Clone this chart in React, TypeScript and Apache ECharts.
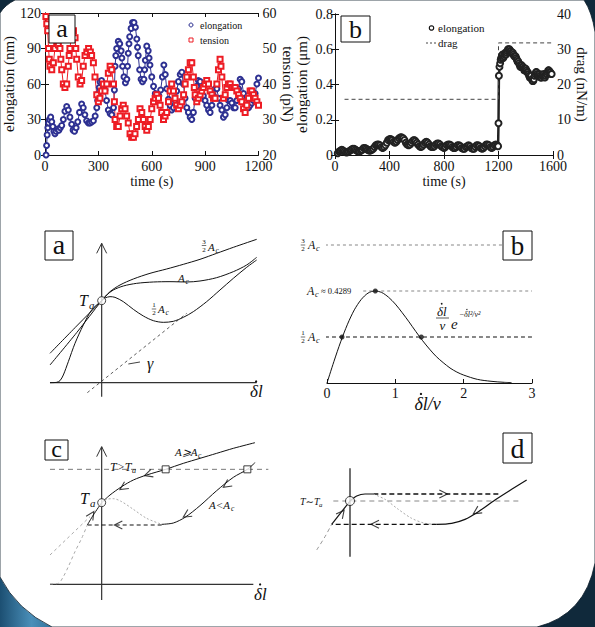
import React, { useEffect, useRef } from 'react';
import * as echarts from 'echarts';

const SERIF = "'Liberation Serif', 'DejaVu Serif', serif";
const INK = '#111';
const BLUE = '#2e3192';
const RED = '#ed1c24';

// ---------- top (a): elongation (nm) and tension (pN) vs time (s)
const elongationA: number[][] = [[6,0],[9,8],[12,17],[16,23],[20,27],[25,30],[32,32],[38,28],[44,24],[50,20],[56,18],[62,20],[70,22],[78,21],[86,23],[94,25],[103,30],[112,37],[122,41],[131,38],[140,32],[150,26],[158,21],[166,20],[175,23],[184,28],[194,36],[206,43],[215,40],[224,34],[234,29],[244,27],[253,27],[262,28],[272,29],[282,33],[291,40],[296,46],[300,52],[305,57],[309,62],[318,63],[328,58],[337,55],[346,46],[356,38],[366,35],[375,34],[385,40],[390,55],[394,75],[398,84],[403,90],[412,96],[420,94],[428,88],[432,82],[436,75],[444,66],[452,61],[460,64],[464,75],[468,86],[472,94],[476,100],[484,107],[492,112],[500,112],[508,108],[516,98],[520,91],[524,84],[532,72],[540,64],[548,62],[556,64],[560,72],[564,80],[572,92],[580,88],[585,82],[590,76],[600,66],[610,58],[620,52],[630,50],[640,50],[650,55],[660,66],[668,76],[676,68],[684,56],[694,47],[703,42],[712,38],[722,40],[731,46],[740,54],[750,62],[760,68],[769,70],[778,60],[787,48],[797,40],[806,36],[816,32],[825,30],[834,36],[844,48],[853,58],[862,63],[872,62],[881,56],[890,50],[900,46],[909,42],[919,38],[928,36],[938,42],[947,50],[956,56],[966,56],[975,48],[984,42],[994,38],[1003,32],[1013,34],[1022,40],[1031,46],[1041,46],[1050,44],[1060,40],[1069,40],[1078,46],[1088,56],[1097,64],[1106,62],[1116,52],[1125,46],[1134,42],[1144,40],[1153,42],[1162,44],[1172,46],[1181,52],[1191,60],[1200,65]];
const tensionA: number[][] = [[5,59],[10,57],[15,55],[20,50],[24,47],[28,45],[38,44],[47,46],[56,50],[66,52],[75,51],[84,50],[89,47],[94,44],[103,40],[112,39],[122,40],[131,45],[136,48],[140,50],[150,54],[160,55],[169,53],[173,50],[178,47],[187,42],[197,40],[206,41],[215,45],[225,48],[235,49],[245,50],[255,49],[262,48],[272,46],[281,42],[291,37],[300,35],[309,36],[318,38],[328,40],[337,38],[347,40],[356,43],[366,45],[375,44],[385,40],[390,35],[394,30],[403,28],[412,28],[422,31],[431,33],[440,34],[450,33],[459,31],[468,29],[478,26],[487,25],[497,25],[506,26],[515,28],[525,30],[534,33],[544,32],[553,30],[563,28],[572,27],[581,28],[591,30],[600,33],[610,35],[619,36],[628,37],[638,36],[647,34],[656,32],[666,30],[675,31],[684,32],[694,35],[703,38],[712,40],[722,38],[731,36],[740,34],[750,33],[760,34],[769,35],[779,37],[788,40],[797,42],[806,44],[816,46],[825,46],[834,42],[839,39],[844,37],[853,35],[862,36],[872,37],[881,38],[890,39],[900,40],[909,41],[919,40],[928,38],[938,37],[947,36],[956,36],[966,40],[975,44],[984,47],[989,45],[994,42],[1003,36],[1013,37],[1022,39],[1031,40],[1041,40],[1050,39],[1060,39],[1069,39],[1078,38],[1088,37],[1097,36],[1106,35],[1116,33],[1125,32],[1134,34],[1144,36],[1153,38],[1162,38],[1172,37],[1181,36],[1191,35],[1200,34]];

// ---------- top (b): elongation (um) and drag (nN/m) vs time (s)
const elongationB: number[][] = [[20,0.01],[30,0.02],[40,0.025],[50,0.03],[60,0.025],[70,0.02],[80,0.015],[90,0.015],[100,0.02],[110,0.025],[120,0.03],[130,0.035],[140,0.035],[150,0.03],[160,0.025],[170,0.02],[180,0.02],[190,0.025],[200,0.03],[210,0.04],[220,0.04],[230,0.035],[240,0.03],[250,0.025],[260,0.025],[270,0.03],[280,0.035],[290,0.045],[300,0.055],[310,0.06],[320,0.06],[330,0.055],[340,0.045],[350,0.04],[360,0.045],[370,0.055],[380,0.07],[390,0.085],[400,0.09],[410,0.09],[420,0.085],[430,0.075],[440,0.07],[450,0.075],[460,0.085],[470,0.095],[480,0.1],[490,0.1],[500,0.095],[510,0.085],[520,0.07],[530,0.06],[540,0.055],[550,0.06],[560,0.07],[570,0.08],[580,0.085],[590,0.08],[600,0.07],[610,0.06],[620,0.05],[630,0.045],[640,0.05],[650,0.06],[660,0.07],[670,0.075],[680,0.07],[690,0.06],[700,0.05],[710,0.045],[720,0.045],[730,0.05],[740,0.06],[750,0.065],[760,0.065],[770,0.06],[780,0.05],[790,0.045],[800,0.04],[810,0.045],[820,0.055],[830,0.06],[840,0.06],[850,0.055],[860,0.045],[870,0.04],[880,0.04],[890,0.045],[900,0.055],[910,0.055],[920,0.05],[930,0.04],[940,0.035],[950,0.035],[960,0.045],[970,0.05],[980,0.055],[990,0.05],[1000,0.04],[1010,0.035],[1020,0.035],[1030,0.045],[1040,0.055],[1050,0.055],[1060,0.05],[1070,0.04],[1080,0.035],[1090,0.04],[1100,0.05],[1110,0.06],[1120,0.06],[1130,0.055],[1140,0.045],[1150,0.04],[1160,0.045],[1170,0.055],[1180,0.06],[1190,0.055],[1197,0.05],[1200,0.18],[1203,0.45],[1207,0.5],[1212,0.52],[1216,0.54],[1220,0.55],[1225,0.56],[1230,0.57],[1235,0.55],[1240,0.56],[1245,0.57],[1250,0.58],[1255,0.57],[1260,0.58],[1265,0.59],[1270,0.6],[1275,0.6],[1280,0.6],[1285,0.59],[1290,0.59],[1295,0.58],[1300,0.58],[1305,0.58],[1310,0.57],[1315,0.56],[1320,0.56],[1325,0.56],[1330,0.55],[1335,0.54],[1340,0.53],[1345,0.53],[1350,0.52],[1355,0.51],[1360,0.5],[1365,0.5],[1370,0.51],[1375,0.5],[1380,0.5],[1385,0.49],[1390,0.48],[1395,0.48],[1400,0.49],[1405,0.48],[1410,0.47],[1415,0.47],[1420,0.46],[1425,0.45],[1430,0.44],[1435,0.44],[1440,0.45],[1445,0.43],[1450,0.42],[1455,0.42],[1460,0.43],[1465,0.45],[1470,0.46],[1475,0.47],[1480,0.47],[1485,0.46],[1490,0.45],[1495,0.45],[1500,0.46],[1505,0.45],[1510,0.44],[1515,0.44],[1520,0.45],[1525,0.45],[1530,0.46],[1535,0.45],[1540,0.44],[1545,0.45],[1550,0.46],[1555,0.46],[1560,0.47],[1565,0.48],[1570,0.48],[1575,0.47],[1580,0.47],[1585,0.46],[1590,0.46]];
const dragB: number[][] = [[70,15.8],[1200,15.8],[1200,31.8],[1600,31.8]];

// ---------- middle (a): force-velocity sketch
const aAxisX = [[-1.55,0],[4.65,0]];
const aAxisY = [[0,-0.42],[0,4.18]];
const aArrowHead = [[-0.15,3.88],[0,4.18],[0.15,3.88]];
const aCurve15 = [[-1.55,0.88],[-0.75,1.7],[0,2.46],[0.25,2.73],[0.55,2.93],[0.95,3.11],[1.45,3.28],[1.95,3.41],[2.45,3.55],[2.95,3.7],[3.45,3.88],[3.95,4.06],[4.65,4.3]];
const aCurve10 = [[-1.55,0.53],[-0.75,1.5],[0,2.46],[0.15,2.63],[0.35,2.78],[0.65,2.9],[1.05,2.98],[1.55,3.02],[2.05,3.03],[2.55,3.02],[2.95,3.05],[3.45,3.15],[3.95,3.33],[4.35,3.53],[4.65,3.76]];
const aCurve05 = [[-1.55,0],[-1.35,0.01],[-1.25,0.06],[-1.15,0.23],[-1.0,0.63],[-0.8,1.18],[-0.55,1.73],[-0.3,2.18],[0,2.46],[0.1,2.54],[0.25,2.58],[0.4,2.56],[0.65,2.43],[0.95,2.2],[1.25,2.0],[1.55,1.86],[1.85,1.81],[2.15,1.84],[2.45,1.96],[2.75,2.13],[3.15,2.43],[3.55,2.78],[3.95,3.13],[4.35,3.46],[4.65,3.68]];
const aGamma = [[-0.43,-0.3],[2.55,2.08]];
const aGammaTick = [[0.8,0.56],[1.15,0.62]];
const aTa = [[0,2.46]];

// ---------- middle (b): dl/v * exp(-dl^2/v^2)
const fX = [0,0.1,0.2,0.3,0.4,0.5,0.6,0.7,0.8,0.9,1.0,1.1,1.2,1.3,1.4,1.5,1.6,1.7,1.8,1.9,2.0,2.2,2.4,2.6,2.7];
const fY = [0,0.099,0.192,0.274,0.341,0.389,0.419,0.429,0.422,0.4,0.368,0.328,0.285,0.24,0.197,0.158,0.123,0.095,0.07,0.051,0.037,0.017,0.008,0.003,0.002];
const levelAc = 0.4289;
const bLevel15 = [[-0.03,1.5 * levelAc],[2.58,1.5 * levelAc]];
const bLevel10 = [[0.53,levelAc],[3,levelAc]];
const bLevel05 = [[-0.03,0.5 * levelAc],[3,0.5 * levelAc]];
const bDots = [[0.22,0.2144],[0.707,0.4289],[1.38,0.2144]];

// ---------- bottom (c)
const cAxisX = [[-1.55,0],[4.55,0]];
const cAxisY = [[0,-0.47],[0,4.13]];
const cArrowHead = [[-0.15,3.83],[0,4.13],[0.15,3.83]];
const cLevel = [[-1.55,3.45],[5.0,3.45]];
const cUpper = [[0,2.45],[0.25,2.68],[0.6,2.93],[0.95,3.13],[1.35,3.28],[1.92,3.45],[2.45,3.63],[2.95,3.78],[3.45,3.93],[3.95,4.08],[4.6,4.25]];
const cHump = [[0,2.45],[0.15,2.55],[0.35,2.57],[0.6,2.48],[0.95,2.25],[1.35,1.98],[1.8,1.8]];
const cLower = [[1.8,1.8],[2.15,1.84],[2.5,2.01],[2.95,2.36],[3.45,2.81],[3.95,3.21],[4.37,3.45],[4.6,3.65]];
const cJump = [[1.8,1.78],[-0.43,1.78]];
const cRise = [[-0.43,1.78],[-0.25,2.08],[0,2.45]];
const cLeftLine = [[-1.55,0.88],[-0.35,2.03]];
const cLeftSigmoid = [[-1.55,0.01],[-1.3,0.03],[-1.15,0.23],[-1.0,0.53],[-0.8,0.98],[-0.6,1.38],[-0.43,1.78]];
const cTa = [[0,2.45]];
const cSquares = [[1.92,3.45],[4.37,3.45]];
const cArrowPts = [[1.4,3.3],[0.65,2.91],[3.75,2.98],[2.55,2.08],[0.5,1.78],[-0.3,2.08]];
const cArrowAngles = [198,213,215,213,180,57];

// ---------- bottom (d)
const dAxisY = [[0,0],[0,2.65]];
const dLevel = [[-0.5,1.67],[5.1,1.67]];
const dTop = [[0.7,1.88],[4.45,1.88]];
const dUpStart = [[0,1.67],[0.2,1.82],[0.45,1.88],[0.7,1.88]];
const dHump = [[0.7,1.88],[1.05,1.72],[1.45,1.42],[1.85,1.15],[2.25,1.0],[2.6,0.97]];
const dLower = [[2.6,0.97],[3.05,1.0],[3.45,1.12],[3.85,1.35],[4.35,1.7],[4.85,2.02],[5.3,2.3]];
const dJump = [[2.6,0.97],[-0.55,0.97]];
const dRise = [[-0.55,0.97],[0,1.67]];
const dLeft = [[-1.0,0.2],[-0.75,0.6],[-0.55,0.97]];
const dTa = [[0,1.67]];
const dArrowPts = [[2.8,1.88],[3.8,1.35],[0.75,0.97],[-0.25,1.3]];
const dArrowAngles = [0,213,180,52];

const CARD = 'M0 13 Q5 5 15 0 L584 0 Q592 12 595 32 L595 563 Q585 615 537 627 L52 627 Q17 610 0 577 Z';
echarts.graphic.registerShape('card', echarts.graphic.extendPath(CARD, {}));

const CHEVRON = 'path://M0,0L10,5L0,10';

const txt = (x: number, y: number, text: string, size: number, extra: any = {}) => ({
  type: 'text', x, y, z: 100, silent: true,
  style: { text, fontFamily: SERIF, fontSize: size, fill: INK, align: 'left', verticalAlign: 'middle', ...extra },
});
const ital = { fontStyle: 'italic' };
const dot = (cx: number, cy: number, r: number) => ({ type: 'circle', z: 101, silent: true, shape: { cx, cy, r }, style: { fill: INK } });
// "δ̇l" (delta with a dot above) followed by an optional suffix, left aligned at x
const dl = (x: number, y: number, size: number, suffix = '') => [
  txt(x, y, 'δl' + suffix, size, ital),
  dot(x + 0.36 * size, y - 0.56 * size, Math.max(0.6, size * 0.065)),
];
const frac = (cx: number, cy: number, num: string, den: string, size: number) => [
  txt(cx, cy - size * 0.55, num, size, { align: 'center' }),
  { type: 'line', z: 100, silent: true, shape: { x1: cx - size * 0.32, y1: cy, x2: cx + size * 0.32, y2: cy }, style: { stroke: INK, lineWidth: 0.6 } },
  txt(cx, cy + size * 0.6, den, size, { align: 'center' }),
];
const subbed = (x: number, y: number, main: string, sub: string, size: number, w: number) => [
  txt(x, y, main, size, ital),
  txt(x + w, y + size * 0.32, sub, size * 0.68, ital),
];
const box = (x: number, y: number, w: number, h: number, letter: string, size: number, dy = 0) => [
  { type: 'rect', z: 99, silent: true, shape: { x, y, width: w, height: h }, style: { fill: '#fff', stroke: INK, lineWidth: 1 } },
  txt(x + w / 2, y + h / 2 + dy, letter, size, { align: 'center' }),
];

const ln = (ax: number, data: number[][], color = INK, width = 1, type: any = 'solid', smooth: any = false) => ({
  type: 'line', xAxisIndex: ax, yAxisIndex: ax, data, symbol: 'none', smooth, silent: true, z: 3,
  lineStyle: { color, width, type },
});
const arrows = (ax: number, pts: number[][], angles: number[]) => ({
  type: 'scatter', xAxisIndex: ax, yAxisIndex: ax, silent: true, z: 5,
  symbol: CHEVRON, symbolSize: 8,
  itemStyle: { color: 'transparent', borderColor: INK, borderWidth: 1.1 },
  data: pts.map((p, i) => ({ value: p, symbolRotate: angles[i] })),
});
const markers = (ax: number, pts: number[][], symbol: string, size: number) => ({
  type: 'scatter', xAxisIndex: ax, yAxisIndex: ax, silent: true, z: 6,
  symbol, symbolSize: size,
  itemStyle: { color: '#fff', borderColor: INK, borderWidth: 1 },
  data: pts,
});

const plain = (v: number) => String(Math.round(v * 1000) / 1000);
const axisBase = {
  axisLine: { show: true, lineStyle: { color: INK, width: 1 } },
  axisTick: { show: true, inside: true, length: 4, lineStyle: { color: INK } },
  splitLine: { show: false },
  axisLabel: { color: INK, fontFamily: SERIF, fontSize: 14, margin: 4, formatter: plain },
  nameTextStyle: { color: INK, fontFamily: SERIF, fontSize: 15 },
};
const hidden = (gi: number, min: number, max: number) => ({ type: 'value', gridIndex: gi, min, max, show: false });

export default function App() {
  const ref = useRef<HTMLDivElement>(null);
  useEffect(() => {
    if (!ref.current) return;
    const chart = echarts.init(ref.current, undefined, { renderer: 'svg' });
    const graphic: any[] = [
      { type: 'rect', z: -60, silent: true, shape: { x: 0, y: 540, width: 90, height: 87 },
        style: { fill: new echarts.graphic.LinearGradient(0, 0, 1, 0, [
          { offset: 0, color: '#1c4f72' }, { offset: 0.35, color: '#4a8fb9' }, { offset: 0.6, color: '#2f6f98' }, { offset: 1, color: '#3f86b0' }]) } },
      { type: 'card', x: 0, y: 0, z: -50, silent: true, style: { fill: '#fff', stroke: '#0b1c28', lineWidth: 0.8 } },
      // top (a)
      ...box(49, 15, 26, 28, 'a', 26, -1),
      { type: 'circle', z: 100, silent: true, shape: { cx: 191, cy: 25, r: 2 }, style: { fill: 'none', stroke: BLUE, lineWidth: 1 } },
      txt(200, 25, 'elongation', 10),
      { type: 'rect', z: 100, silent: true, shape: { x: 189, y: 38, width: 4, height: 4 }, style: { fill: 'none', stroke: RED, lineWidth: 1 } },
      txt(200, 40, 'tension', 10),
      // top (b)
      ...box(341, 16, 29, 26, 'b', 26),
      { type: 'circle', z: 100, silent: true, shape: { cx: 431.5, cy: 28, r: 2.2 }, style: { fill: 'none', stroke: INK, lineWidth: 1.2 } },
      txt(438, 28, 'elongation', 11),
      { type: 'line', z: 100, silent: true, shape: { x1: 426, y1: 43, x2: 436, y2: 43 }, style: { stroke: '#444', lineWidth: 1, lineDash: [2, 2] } },
      txt(438, 43, 'drag', 11),
      // middle (a)
      ...box(45, 231, 28, 29, 'a', 28, -1),
      ...subbed(79, 300, 'T', 'a', 16, 10),
      ...frac(204, 245.5, '3', '2', 7), ...subbed(208, 247, 'A', 'c', 11, 7.5),
      ...subbed(178, 278, 'A', 'c', 11, 7.5),
      ...frac(154, 309, '1', '2', 7), ...subbed(158, 309, 'A', 'c', 11, 7.5),
      txt(147, 363, 'γ', 16, ital),
      ...dl(250, 391, 17),
      // middle (b)
      ...box(503, 231, 29, 29, 'b', 27),
      ...frac(303, 245, '3', '2', 7), ...subbed(308, 245, 'A', 'c', 12, 8),
      ...subbed(307, 291, 'A', 'c', 12, 8),
      txt(321, 291, '≈ 0.4289', 8.5),
      ...frac(303, 337, '1', '2', 7), ...subbed(308, 337, 'A', 'c', 12, 8),
      ...dl(437, 311, 13),
      { type: 'line', z: 100, silent: true, shape: { x1: 436, y1: 318, x2: 449, y2: 318 }, style: { stroke: INK, lineWidth: 0.7 } },
      txt(442.5, 325, 'v', 13, { ...ital, align: 'center' }),
      txt(451, 324, 'e', 15, ital),
      txt(459, 314, '−', 8, ital),
      ...dl(464, 314, 8, '²/v²'),
      ...dl(414.5, 404, 18, '/v'),
      // bottom (c)
      ...box(45, 440, 23, 20, 'c', 24, -1),
      ...subbed(80, 498, 'T', 'a', 16, 10),
      ...subbed(110, 467, 'T>T', 'a', 12, 22),
      ...subbed(175, 452, 'A⩾A', 'c', 11, 23),
      ...subbed(209, 505, 'A<A', 'c', 11, 22),
      ...dl(254, 594, 17),
      // bottom (d)
      ...box(503, 433, 29, 30, 'd', 28),
      ...subbed(300, 501, 'T∼T', 'a', 10, 19),
    ];

    const option: any = {
      animation: false,
      backgroundColor: '#10293b',
      grid: [
        { left: 45, top: 13, width: 213.5, height: 142 },
        { left: 335, top: 14, width: 218, height: 141 },
        { left: 48.33, top: 236, width: 213.33, height: 163.33 },
        { left: 327, top: 232.85, width: 205, height: 150.15 },
        { left: 48.33, top: 437.67, width: 226.67, height: 163.33 },
        { left: 310, top: 456.67, width: 226.67, height: 106.67 },
      ],
      xAxis: [
        { type: 'value', gridIndex: 0, min: 0, max: 1200, interval: 300, position: 'bottom', ...axisBase,
          name: 'time (s)', nameLocation: 'middle', nameGap: 19, nameTextStyle: { ...axisBase.nameTextStyle, fontSize: 14 } },
        { type: 'value', gridIndex: 0, min: 0, max: 1200, interval: 300, position: 'top', ...axisBase, axisLabel: { show: false } },
        { type: 'value', gridIndex: 1, min: 0, max: 1600, interval: 400, position: 'bottom', ...axisBase,
          name: 'time (s)', nameLocation: 'middle', nameGap: 19, nameTextStyle: { ...axisBase.nameTextStyle, fontSize: 14 } },
        { type: 'value', gridIndex: 1, min: 0, max: 1600, interval: 400, position: 'top', ...axisBase, axisLabel: { show: false } },
        hidden(2, -1.6, 4.8),
        { type: 'value', gridIndex: 3, min: 0, max: 3, interval: 1, position: 'bottom', ...axisBase, axisLabel: { ...axisBase.axisLabel, margin: 3 } },
        hidden(4, -1.6, 5.2),
        hidden(5, -1.2, 5.6),
      ],
      yAxis: [
        { type: 'value', gridIndex: 0, min: 0, max: 120, interval: 30, position: 'left', ...axisBase,
          name: 'elongation (nm)', nameLocation: 'middle', nameRotate: 90, nameGap: 21 },
        { type: 'value', gridIndex: 0, min: 20, max: 60, interval: 10, position: 'right', ...axisBase,
          name: 'tension (pN)', nameLocation: 'middle', nameRotate: -90, nameGap: 19 },
        { type: 'value', gridIndex: 1, min: 0, max: 0.8, interval: 0.2, position: 'left', ...axisBase,
          axisLabel: { ...axisBase.axisLabel, margin: 2 },
          name: 'elongation (μm)', nameLocation: 'middle', nameRotate: 90, nameGap: 26 },
        { type: 'value', gridIndex: 1, min: 0, max: 40, interval: 10, position: 'right', ...axisBase,
          name: 'drag (nN/m)', nameLocation: 'middle', nameRotate: -90, nameGap: 16 },
        hidden(2, -0.5, 4.4),
        hidden(3, 0, 0.7),
        hidden(4, -0.5, 4.4),
        hidden(5, -0.2, 3.0),
      ],
      graphic,
      series: [
        { type: 'line', xAxisIndex: 0, yAxisIndex: 0, data: elongationA, symbol: 'emptyCircle', symbolSize: 5, showAllSymbol: true,
          itemStyle: { color: BLUE, borderWidth: 1.1 }, lineStyle: { color: BLUE, width: 1 }, silent: true },
        { type: 'line', xAxisIndex: 0, yAxisIndex: 1, data: tensionA, symbol: 'emptyRect', symbolSize: 5, showAllSymbol: true,
          itemStyle: { color: RED, borderWidth: 1.1 }, lineStyle: { color: RED, width: 1 }, silent: true },
        { type: 'line', xAxisIndex: 2, yAxisIndex: 2, data: elongationB, symbol: 'emptyCircle', symbolSize: 6, showAllSymbol: true,
          itemStyle: { color: '#222', borderWidth: 1.8 }, lineStyle: { color: '#222', width: 2.5 }, silent: true },
        { type: 'line', xAxisIndex: 2, yAxisIndex: 3, data: dragB, symbol: 'none', silent: true,
          lineStyle: { color: '#444', width: 1, type: [4, 3] } },
        // middle (a)
        ln(4, aAxisX, '#333', 1.2), ln(4, aAxisY, '#333', 1.2), ln(4, aArrowHead, '#333', 1),
        ln(4, aCurve15, INK, 1, 'solid', 0.3), ln(4, aCurve10, INK, 1, 'solid', 0.3), ln(4, aCurve05, INK, 1, 'solid', 0.3),
        ln(4, aGamma, '#333', 0.8, [3, 3]), ln(4, aGammaTick, INK, 0.8),
        markers(4, aTa, 'circle', 8),
        // middle (b)
        { type: 'line', xAxisIndex: 5, yAxisIndex: 5, data: fX.map((x, i) => [x, fY[i]]), symbol: 'none', smooth: 0.3, silent: true, lineStyle: { color: INK, width: 1 } },
        ln(5, bLevel15, '#555', 0.7, [3, 3]), ln(5, bLevel10, '#555', 0.7, [3, 3]), ln(5, bLevel05, INK, 1.2, [4, 3]),
        { type: 'scatter', xAxisIndex: 5, yAxisIndex: 5, data: bDots, symbol: 'circle', symbolSize: 5, itemStyle: { color: INK }, silent: true, z: 6 },
        // bottom (c)
        ln(6, cAxisX, '#333', 1.2), ln(6, cAxisY, '#333', 1.2), ln(6, cArrowHead, '#333', 1),
        ln(6, cLevel, '#555', 0.8, [5, 4]),
        ln(6, cUpper, INK, 1, 'solid', 0.3), ln(6, cHump, '#aaa', 1, [2, 2], 0.3), ln(6, cLower, INK, 1, 'solid', 0.3),
        ln(6, cJump, INK, 1.2, [4, 3]), ln(6, cRise, INK, 1, 'solid', 0.3),
        ln(6, cLeftLine, '#aaa', 1, [3, 3]), ln(6, cLeftSigmoid, '#aaa', 1, [3, 3], 0.3),
        arrows(6, cArrowPts, cArrowAngles),
        markers(6, cTa, 'circle', 8), markers(6, cSquares, 'rect', 7),
        // bottom (d)
        ln(7, dAxisY, INK, 1.2),
        ln(7, dLevel, '#888', 1, [5, 4]),
        ln(7, dTop, INK, 1.3, [5, 3]), ln(7, dUpStart, INK, 1.2, 'solid', 0.3),
        ln(7, dHump, '#aaa', 1, [2, 2], 0.3), ln(7, dLower, INK, 1.2, 'solid', 0.3),
        ln(7, dJump, INK, 1.3, [5, 3]), ln(7, dRise, INK, 1.2),
        ln(7, dLeft, '#999', 1, [4, 3], 0.3),
        arrows(7, dArrowPts, dArrowAngles),
        markers(7, dTa, 'circle', 9),
      ],
    };
    chart.setOption(option);
    return () => chart.dispose();
  }, []);
  return <div ref={ref} style={{ position: 'fixed', left: 0, top: 0, width: 595, height: 627 }} />;
}
